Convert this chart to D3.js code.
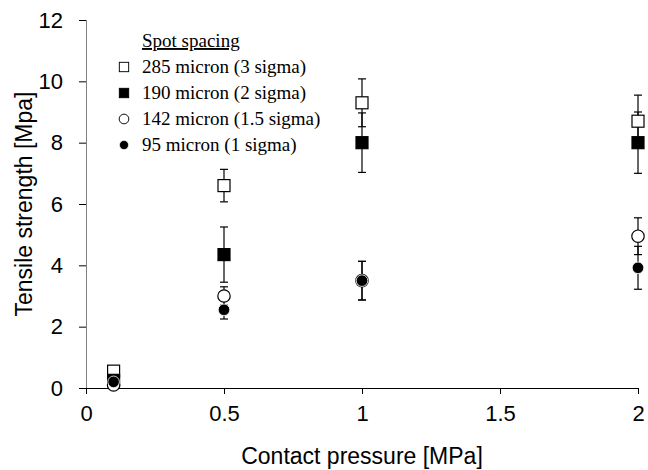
<!DOCTYPE html>
<html>
<head>
<meta charset="utf-8">
<script src="https://cdn.jsdelivr.net/npm/d3@7"></script>
<style>
  body { margin: 0; background: #fff; }
  svg { display: block; }
  .tick text { font-family: "Liberation Sans", Arial, sans-serif; font-size: 22px; fill: #000; }
  .axis-title { font-family: "Liberation Sans", Arial, sans-serif; font-size: 23px; fill: #000; }
  .legend text { font-family: "Liberation Serif", "Times New Roman", serif; font-size: 19px; fill: #000; }
</style>
</head>
<body>
<div id="chart"></div>
<script>
// data
const pressures = [0.1, 0.5, 1, 2];
const seriesNames = ["285 micron (3 sigma)", "190 micron (2 sigma)", "142 micron (1.5 sigma)", "95 micron (1 sigma)"];
const seriesShapes = ["openSquare", "filledSquare", "openCircle", "filledCircle"];
const strength285 = [0.55, 6.6, 9.3, 8.7];
const err285 = [0, 0.53, 0.78, 0.85];
const strength190 = [0.25, 4.35, 8.0, 8.0];
const err190 = [0, 0.9, 0.97, 1.0];
const strength142 = [0.1, 3.0, 3.5, 4.95];
const err142 = [0, 0.3, 0.63, 0.6];
const strength95 = [0.2, 2.55, 3.5, 3.92];
const err95 = [0, 0.3, 0.63, 0.7];
const xTicks = [0, 0.5, 1, 1.5, 2];
const yTicks = [0, 2, 4, 6, 8, 10, 12];

const values = [strength285, strength190, strength142, strength95];
const errors = [err285, err190, err142, err95];

const width = 648, height = 470;

const svg = d3.select("#chart").append("svg")
    .attr("width", width)
    .attr("height", height);

const x = d3.scaleLinear().domain([0, 2]).range([86, 638]);
const y = d3.scaleLinear().domain([0, 12]).range([388, 20]);

// axes
const xAxis = svg.append("g")
    .attr("transform", `translate(0, ${y(0)})`)
    .call(d3.axisBottom(x).tickValues(xTicks).tickSize(6).tickPadding(11)
        .tickFormat(d => d3.format("")(d)));
xAxis.select(".domain").attr("stroke", "#000").attr("d", `M${x(0)},0.5H${x(2)}`);
xAxis.selectAll(".tick line").attr("stroke", "#000");

const yAxis = svg.append("g")
    .attr("transform", `translate(${x(0)}, 0)`)
    .call(d3.axisLeft(y).tickValues(yTicks).tickSize(7).tickPadding(16));
yAxis.select(".domain").attr("stroke", "#808080").attr("d", `M0.5,${y(12)}V${y(0)}`);
yAxis.selectAll(".tick line").attr("stroke", "#000");

svg.append("text")
    .attr("class", "axis-title")
    .attr("x", 362)
    .attr("y", 464)
    .attr("text-anchor", "middle")
    .text("Contact pressure [MPa]");

svg.append("text")
    .attr("class", "axis-title")
    .attr("transform", `translate(32, ${y(6)}) rotate(-90)`)
    .attr("text-anchor", "middle")
    .text("Tensile strength [Mpa]");

// marker drawing
const drawMarker = (g, shape) => {
    if (shape === "openSquare" || shape === "filledSquare") {
        g.append("rect")
            .attr("x", -6).attr("y", -6).attr("width", 12).attr("height", 12)
            .attr("fill", shape === "openSquare" ? "#fff" : "#000")
            .attr("stroke", "#000").attr("stroke-width", 1.2);
    } else if (shape === "openCircle") {
        g.append("circle").attr("r", 6.2)
            .attr("fill", "#fff").attr("stroke", "#000").attr("stroke-width", 1.2);
    } else {
        g.append("circle").attr("r", 5.8)
            .attr("fill", "#000").attr("stroke", "#fff").attr("stroke-width", 0.8);
    }
};

// error bars first, then markers
const cap = 4;
values.forEach((vals, s) => {
    const rows = pressures.map((p, i) => ({ p, v: vals[i], e: errors[s][i] })).filter(d => d.e > 0);
    const eg = svg.append("g").attr("stroke", "#000").attr("stroke-width", 1.2);
    rows.forEach(d => {
        const cx = x(d.p);
        eg.append("line").attr("x1", cx).attr("x2", cx).attr("y1", y(d.v - d.e)).attr("y2", y(d.v + d.e));
        eg.append("line").attr("x1", cx - cap).attr("x2", cx + cap).attr("y1", y(d.v + d.e)).attr("y2", y(d.v + d.e));
        eg.append("line").attr("x1", cx - cap).attr("x2", cx + cap).attr("y1", y(d.v - d.e)).attr("y2", y(d.v - d.e));
    });
});

values.forEach((vals, s) => {
    pressures.forEach((p, i) => {
        const g = svg.append("g").attr("transform", `translate(${x(p)}, ${y(vals[i])})`);
        drawMarker(g, seriesShapes[s]);
    });
});

// legend
const legend = svg.append("g").attr("class", "legend");
legend.append("text")
    .attr("x", 142).attr("y", 47)
    .style("text-decoration", "underline")
    .text("Spot spacing");

seriesNames.forEach((name, i) => {
    const ly = 67 + i * 26;
    const g = legend.append("g").attr("transform", `translate(124, ${ly})`);
    const m = g.append("g").attr("transform", "scale(0.78)");
    drawMarker(m, seriesShapes[i]);
    g.append("text").attr("x", 18).attr("y", 6).text(name);
});
</script>
</body>
</html>
